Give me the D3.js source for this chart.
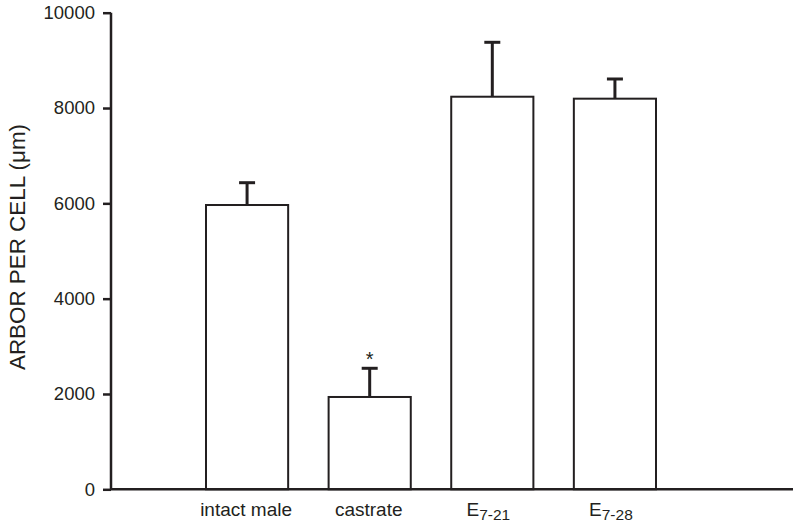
<!DOCTYPE html>
<html><head><meta charset="utf-8">
<script src="https://cdn.jsdelivr.net/npm/d3@7"></script>
<style>body{margin:0;background:#fff}svg{display:block}text{font-family:"Liberation Sans",Arial,sans-serif;fill:#231f20}</style>
</head><body>
<svg id="c" width="800" height="527"></svg>
<script>
const categories = ["intact male", "castrate", "E7-21", "E7-28"];
const labelMain = ["intact male", "castrate", "E", "E"];
const labelSub = ["", "", "7-21", "7-28"];
const means = [5965, 1937, 8237, 8196];
const errors = [468, 602, 1142, 413];
const significant = [false, true, false, false];
const yTicks = [0, 2000, 4000, 6000, 8000, 10000];
const yTitle = "ARBOR PER CELL (\u03bcm)";

const ink = "#231f20";
const svg = d3.select("#c");
const y = d3.scaleLinear().domain([0, 10000]).range([489.3, 12.7]);
const x = d3.scaleBand().domain(categories).range([206, 656]).paddingInner(0.33).paddingOuter(0);

// bars
svg.selectAll("rect.bar").data(categories).enter().append("rect")
  .attr("x", d => x(d)).attr("width", x.bandwidth())
  .attr("y", (d, i) => y(means[i])).attr("height", (d, i) => y(0) - y(means[i]))
  .attr("fill", "#fff").attr("stroke", ink).attr("stroke-width", 2);

// error bars
const eb = svg.append("g").attr("stroke", ink).attr("stroke-width", 3);
categories.forEach((c, i) => {
  const cx = x(c) + x.bandwidth() / 2;
  eb.append("line").attr("x1", cx).attr("x2", cx).attr("y1", y(means[i])).attr("y2", y(means[i] + errors[i]));
  eb.append("line").attr("x1", cx - 8).attr("x2", cx + 8).attr("y1", y(means[i] + errors[i])).attr("y2", y(means[i] + errors[i]));
  if (significant[i]) {
    svg.append("text").attr("x", cx).attr("y", y(means[i] + errors[i]) - 2)
      .attr("text-anchor", "middle").attr("font-size", 20).text("*");
  }
});

// y axis
const ya = svg.append("g").attr("transform", "translate(111,0)")
  .call(d3.axisLeft(y).tickValues(yTicks).tickSize(8).tickPadding(8).tickFormat(d3.format("d")));
ya.select(".domain").attr("stroke", ink).attr("stroke-width", 2.5).attr("d", `M0,${y(0)}V${y(10000)}`);
ya.selectAll(".tick line").attr("stroke", ink).attr("stroke-width", 2.5);
ya.selectAll(".tick text").attr("font-size", 18.5).attr("font-family", "Liberation Sans, Arial, sans-serif").attr("fill", ink);

// x axis baseline
svg.append("line").attr("x1", 111).attr("x2", 793).attr("y1", y(0)).attr("y2", y(0))
  .attr("stroke", ink).attr("stroke-width", 2.5);

// x labels
categories.forEach((c, i) => {
  const t = svg.append("text").attr("x", x(c) + x.bandwidth() / 2).attr("y", 516)
    .attr("dx", labelSub[i] ? -4 : -1)
    .attr("text-anchor", "middle").attr("font-size", 19);
  t.append("tspan").text(labelMain[i]);
  if (labelSub[i]) t.append("tspan").attr("dy", 4).attr("font-size", 15.5).text(labelSub[i]);
});

// y title
svg.append("text").attr("transform", "translate(25,247) rotate(-90)")
  .attr("text-anchor", "middle").attr("font-size", 22.4).text(yTitle);
</script>
</body></html>
